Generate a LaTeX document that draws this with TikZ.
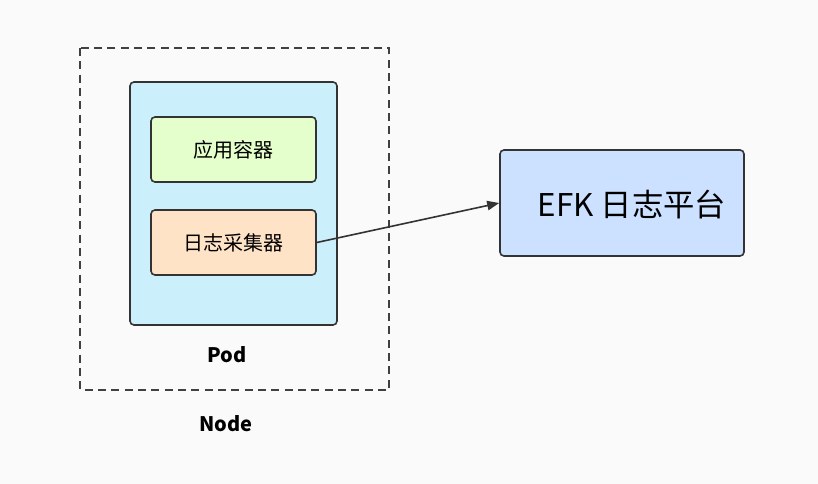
\documentclass[tikz,border=0pt]{standalone}
\usepackage{fontspec}
\setmainfont{Noto Sans CJK SC}
\usetikzlibrary{arrows.meta}
\begin{document}
\begin{tikzpicture}[x=0.75pt,y=-0.75pt,
  box/.style={draw=black!80,line width=1.2pt,rounded corners=3pt},
  lbl/.style={font=\fontsize{15}{17}\selectfont\bfseries}]
\useasboundingbox[fill=white!98!black] (0,0) rectangle (818,484);
\draw[dashed,line width=1.2pt,draw=black!75,dash pattern=on 6pt off 4pt] (80,48) rectangle (389,390);
\node[box,fill=cyan!20,minimum width=207*0.75pt,minimum height=243*0.75pt] (pod) at (233.5,203.5) {};
\node[box,fill=green!50!yellow!20,minimum width=165*0.75pt,minimum height=65*0.75pt,font=\fontsize{15}{17}\selectfont] (app) at (233.5,149.5) {应用容器};
\node[box,fill=orange!22,minimum width=165*0.75pt,minimum height=65*0.75pt,font=\fontsize{15}{17}\selectfont] (col) at (233.5,242.5) {日志采集器};
\node[box,fill=blue!60!cyan!20,minimum width=244*0.75pt,minimum height=106*0.75pt] (efk) at (622,203) {};
\node[font=\fontsize{23.5}{26}\selectfont] (efkt) at (632,205) {EFK 日志平台};
\node[lbl] (podl) at (227,355) {Pod};
\node[lbl] (nodel) at (226,424) {Node};
\draw[-{Triangle[length=9pt,width=7pt]},line width=1.2pt,draw=black!80] (col.east) -- (efk.west);
\end{tikzpicture}
\end{document}
